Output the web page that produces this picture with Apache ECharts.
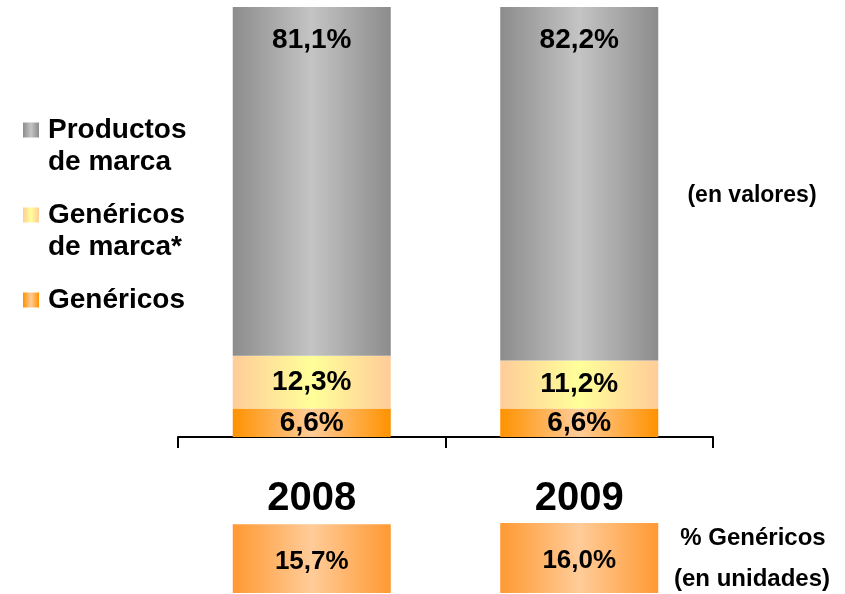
<!DOCTYPE html>
<html>
<head>
<meta charset="utf-8">
<script src="https://cdn.jsdelivr.net/npm/echarts@6/dist/echarts.min.js"></script>
<style>
  html, body { margin: 0; padding: 0; background: #fff; }
  #chart { width: 845px; height: 594px; }
</style>
</head>
<body>
<div id="chart"></div>
<script>
// data
const years = ['2008', '2009'];
const genericos = [6.6, 6.6];
const genericosMarca = [12.3, 11.2];
const productosMarca = [81.1, 82.2];
const unitShare = [15.7, 16.0];

const FONT = '"Liberation Sans", Arial, sans-serif';

function grad(edge, mid) {
  return new echarts.graphic.LinearGradient(0, 0, 1, 0, [
    { offset: 0, color: edge },
    { offset: 0.5, color: mid },
    { offset: 1, color: edge }
  ]);
}

function pct(p) {
  return p.value.toFixed(1).replace('.', ',') + '%';
}

const labelStyle = {
  show: true,
  position: 'inside',
  color: '#000',
  fontFamily: FONT,
  fontWeight: 'bold',
  fontSize: 28,
  formatter: pct
};

const legendBase = {
  orient: 'vertical',
  left: 23,
  padding: 0,
  icon: 'rect',
  itemWidth: 16,
  itemHeight: 15,
  selectedMode: false,
  textStyle: {
    color: '#000',
    fontFamily: FONT,
    fontWeight: 'bold',
    fontSize: 28,
    lineHeight: 32,
    padding: [0, 0, 0, 4]
  }
};

const chart = echarts.init(document.getElementById('chart'));
chart.setOption({
  animation: false,
  grid: [
    { left: 178, right: 132, top: 7, bottom: 157 },
    { left: 178, right: 132, top: 523, height: 70 }
  ],
  legend: [
    Object.assign({}, legendBase, {
      top: 82,
      data: ['Productos de marca'],
      formatter: () => '\nProductos\nde marca'
    }),
    Object.assign({}, legendBase, {
      top: 167,
      data: ['Genéricos de marca*'],
      formatter: () => '\nGenéricos\nde marca*'
    }),
    Object.assign({}, legendBase, {
      top: 284,
      data: ['Genéricos']
    })
  ],
  xAxis: [
    {
      type: 'category',
      gridIndex: 0,
      data: years,
      axisLine: { lineStyle: { color: '#000', width: 2 } },
      axisTick: { show: true, length: 11, lineStyle: { color: '#000', width: 2 } },
      axisLabel: {
        margin: 42,
        color: '#000',
        fontFamily: FONT,
        fontWeight: 'bold',
        fontSize: 40
      }
    },
    { type: 'category', gridIndex: 1, data: years, show: false }
  ],
  yAxis: [
    { type: 'value', gridIndex: 0, min: 0, max: 100, show: false },
    { type: 'value', gridIndex: 1, min: 0, max: 16, show: false }
  ],
  series: [
    {
      name: 'Genéricos',
      type: 'bar',
      stack: 'total',
      barWidth: 158,
      data: genericos,
      itemStyle: { color: grad('#ff9200', '#ffcc99') },
      label: labelStyle
    },
    {
      name: 'Genéricos de marca*',
      type: 'bar',
      stack: 'total',
      barWidth: 158,
      data: genericosMarca,
      itemStyle: { color: grad('#ffcc99', '#ffff99') },
      label: labelStyle
    },
    {
      name: 'Productos de marca',
      type: 'bar',
      stack: 'total',
      barWidth: 158,
      data: productosMarca,
      itemStyle: { color: grad('#8c8c8c', '#c4c4c4') },
      label: Object.assign({}, labelStyle, { position: 'insideTop', distance: 19 })
    },
    {
      name: '% Genéricos (en unidades)',
      type: 'bar',
      xAxisIndex: 1,
      yAxisIndex: 1,
      barWidth: 158,
      data: unitShare,
      itemStyle: { color: grad('#ff9933', '#ffcc99') },
      label: Object.assign({}, labelStyle, { fontSize: 26, offset: [0, 3] })
    }
  ],
  graphic: [
    {
      type: 'text', x: 752, y: 196,
      style: { text: '(en valores)', font: 'bold 23px ' + FONT, fill: '#000', align: 'center', verticalAlign: 'middle' }
    },
    {
      type: 'text', x: 753, y: 538,
      style: { text: '% Genéricos', font: 'bold 24px ' + FONT, fill: '#000', align: 'center', verticalAlign: 'middle' }
    },
    {
      type: 'text', x: 752, y: 579,
      style: { text: '(en unidades)', font: 'bold 24px ' + FONT, fill: '#000', align: 'center', verticalAlign: 'middle' }
    }
  ]
});
</script>
</body>
</html>
